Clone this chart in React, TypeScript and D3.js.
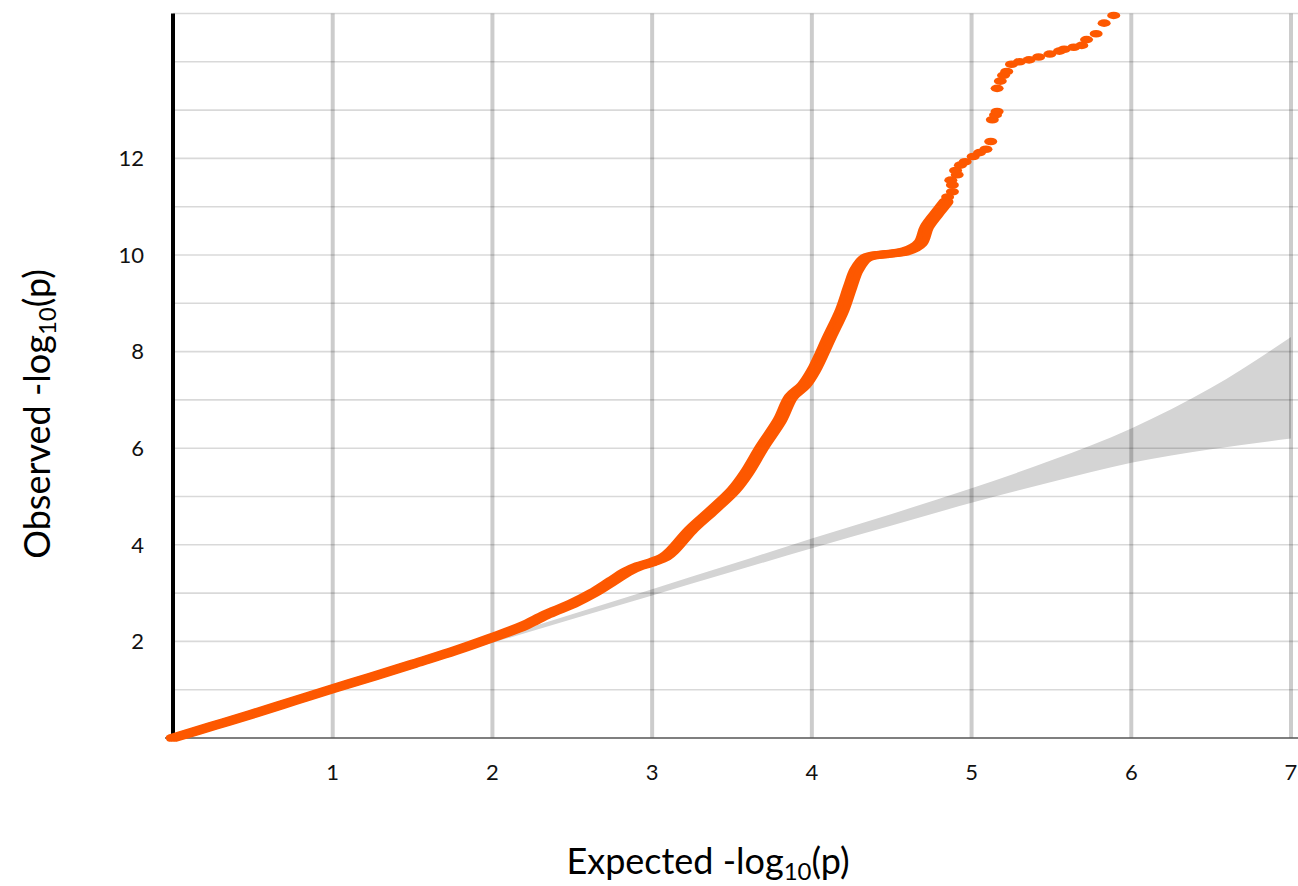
import React from 'react';
import * as d3 from 'd3';

// dense part of the QQ curve (expected, observed)
const denseExpected = [0, 0.25, 0.5, 0.75, 1.0, 1.25, 1.5, 1.75, 2.0, 2.2, 2.34, 2.5, 2.63, 2.75, 2.84, 2.92, 3.0, 3.08, 3.13, 3.24, 3.38, 3.51, 3.59, 3.69, 3.8, 3.87, 3.95, 4.01, 4.11, 4.19, 4.24, 4.28, 4.34, 4.47, 4.59, 4.68, 4.72, 4.8, 4.84];
const denseObserved = [0, 0.25, 0.5, 0.76, 1.02, 1.27, 1.53, 1.79, 2.08, 2.33, 2.56, 2.78, 3.0, 3.25, 3.44, 3.56, 3.64, 3.75, 3.89, 4.3, 4.72, 5.13, 5.48, 6.03, 6.58, 7.06, 7.3, 7.6, 8.3, 8.86, 9.34, 9.69, 9.94, 10.02, 10.08, 10.25, 10.58, 10.93, 11.1];

// sparse top points
const sparseExpected = [4.85, 4.88, 4.88, 4.87, 4.91, 4.9, 4.93, 4.96, 5.01, 5.05, 5.09, 5.12, 5.13, 5.15, 5.16, 5.16, 5.18, 5.2, 5.22, 5.25, 5.3, 5.36, 5.42, 5.49, 5.55, 5.58, 5.64, 5.69, 5.72, 5.78, 5.83, 5.89];
const sparseObserved = [11.2, 11.31, 11.45, 11.55, 11.66, 11.75, 11.86, 11.93, 12.04, 12.12, 12.19, 12.35, 12.8, 12.9, 12.97, 13.45, 13.6, 13.72, 13.8, 13.95, 14.0, 14.04, 14.1, 14.16, 14.22, 14.26, 14.3, 14.34, 14.46, 14.58, 14.8, 14.96];

// confidence band
const bandX = [0, 1, 2, 3, 3.5, 4, 4.5, 5, 5.5, 6, 6.5, 7];
const bandLower = [0, 0.98, 1.97, 2.95, 3.44, 3.93, 4.4, 4.87, 5.3, 5.7, 5.98, 6.2];
const bandUpper = [0, 1.03, 2.05, 3.08, 3.6, 4.13, 4.64, 5.17, 5.75, 6.41, 7.25, 8.3];

const xTicks = [1, 2, 3, 4, 5, 6, 7];
const yTicks = [2, 4, 6, 8, 10, 12];
const yGrid = [1, 2, 3, 4, 5, 6, 7, 8, 9, 10, 11, 12, 13, 14, 15];

const W = 1298;
const H = 886;
const FONT = 'Lato, "Open Sans", sans-serif';
const ORANGE = '#fd5800';

export default function App() {
  const x = d3.scaleLinear().domain([0, 7]).range([173, 1291]);
  const y = d3.scaleLinear().domain([0, 15]).range([738, 13.5]);

  const dense = denseExpected.map((e, i) => [e, denseObserved[i]] as [number, number]);
  const sparse = sparseExpected.map((e, i) => [e, sparseObserved[i]] as [number, number]);
  const band = bandX.map((b, i) => ({ x: b, lo: bandLower[i], hi: bandUpper[i] }));

  const area = d3
    .area<{ x: number; lo: number; hi: number }>()
    .x((d) => x(d.x))
    .y0((d) => y(d.lo))
    .y1((d) => y(d.hi))
    .curve(d3.curveMonotoneX);

  const line = d3
    .line<[number, number]>()
    .x((d) => x(d[0]))
    .y((d) => y(d[1]))
    .curve(d3.curveCatmullRom);

  const densePath = line(dense) || '';

  return (
    <div style={{ position: 'absolute', left: 0, top: 0 }}>
      <svg width={W} height={H} style={{ display: 'block', background: '#fff' }}>
        <path d={area(band) || ''} fill="#d4d4d4" />
        {yGrid.map((t) => (
          <line key={'h' + t} x1={x(0)} x2={W} y1={y(t)} y2={y(t)} stroke="rgba(0,0,0,0.15)" strokeWidth={1.6} />
        ))}
        {xTicks.map((t) => (
          <line key={'v' + t} x1={x(t)} x2={x(t)} y1={y(15)} y2={y(0)} stroke="rgba(0,0,0,0.2)" strokeWidth={4} />
        ))}
        <line x1={165} x2={W} y1={y(0)} y2={y(0)} stroke="#555" strokeWidth={1.6} />
        <line x1={x(0)} x2={x(0)} y1={y(15)} y2={y(0)} stroke="#000" strokeWidth={4} />

        {[-3.5, -1.2, 1.2, 3.5].map((dx) => (
          <path
            key={'d' + dx}
            d={densePath}
            transform={`translate(${dx},0)`}
            fill="none"
            stroke={ORANGE}
            strokeWidth={7.5}
            strokeLinecap="round"
            strokeLinejoin="round"
          />
        ))}
        {sparse.map((d, i) => (
          <ellipse key={'s' + i} cx={x(d[0])} cy={y(d[1])} rx={6.5} ry={3.8} fill={ORANGE} />
        ))}

        {yTicks.map((t) => (
          <text key={'yl' + t} x={144} y={y(t)} dy="0.35em" textAnchor="end" fontFamily={FONT} fontSize={22} fill="#111">
            {t}
          </text>
        ))}
        {xTicks.map((t) => (
          <text key={'xl' + t} x={x(t)} y={780} textAnchor="middle" fontFamily={FONT} fontSize={22} fill="#111">
            {t}
          </text>
        ))}

        <text x={708} y={874} textAnchor="middle" fontFamily={FONT} fontSize={36} fill="#000">
          Expected -log
          <tspan fontSize={24} dy={6}>10</tspan>
          <tspan dy={-6}>(p)</tspan>
        </text>
        <text
          transform={`translate(50,414) rotate(-90)`}
          textAnchor="middle"
          fontFamily={FONT}
          fontSize={36}
          fill="#000"
        >
          Observed -log
          <tspan fontSize={24} dy={6}>10</tspan>
          <tspan dy={-6}>(p)</tspan>
        </text>
      </svg>
    </div>
  );
}
